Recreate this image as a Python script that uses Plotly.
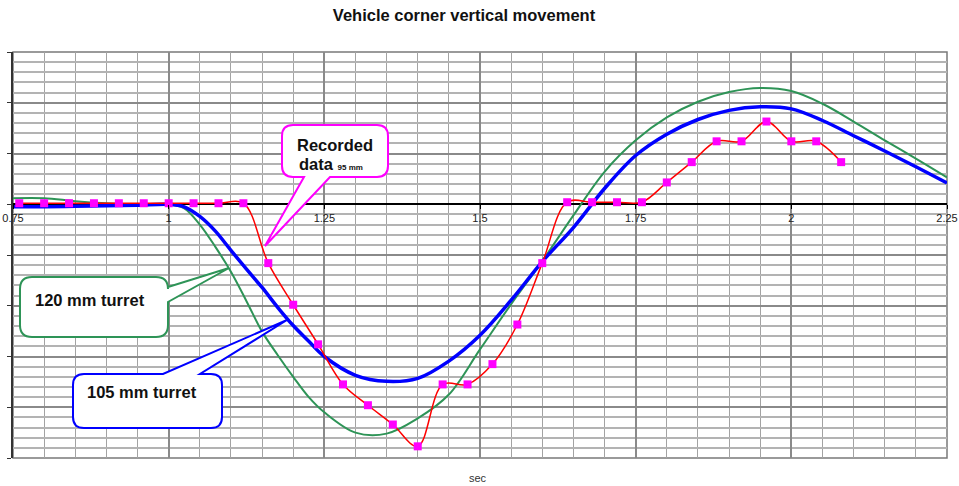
import plotly.graph_objects as go

# ---------------- data ----------------
rec_t = [0.76, 0.80, 0.84, 0.88, 0.92, 0.96, 1.00, 1.04, 1.08, 1.12,
         1.16, 1.20, 1.24, 1.28, 1.32, 1.36, 1.40, 1.44, 1.48, 1.52,
         1.56, 1.60, 1.64, 1.68, 1.72, 1.76, 1.80, 1.84, 1.88, 1.92,
         1.96, 2.00, 2.04, 2.08]
rec_y = [0.02, 0.02, 0.02, 0.02, 0.02, 0.02, 0.02, 0.02, 0.02, 0.02,
         -1.16, -1.98, -2.76, -3.55, -3.96, -4.34, -4.77, -3.55, -3.55, -3.15,
         -2.37, -1.16, 0.04, 0.04, 0.04, 0.04, 0.43, 0.83, 1.24, 1.24,
         1.63, 1.24, 1.24, 0.83]

t105 = [0.75, 0.80, 0.85, 0.90, 0.95, 1.00, 1.025, 1.05, 1.075, 1.10,
        1.125, 1.15, 1.175, 1.20, 1.225, 1.25, 1.30, 1.35, 1.40, 1.45,
        1.50, 1.55, 1.60, 1.65, 1.70, 1.75, 1.80, 1.85, 1.90, 1.95,
        2.00, 2.05, 2.10, 2.15, 2.20, 2.25]
y105 = [-0.05, -0.05, -0.04, -0.03, -0.02, 0.0, -0.05, -0.24, -0.53, -0.91,
        -1.28, -1.64, -2.03, -2.39, -2.70, -3.00, -3.37, -3.49, -3.43, -3.09,
        -2.58, -1.89, -1.13, -0.46, 0.31, 0.96, 1.38, 1.67, 1.85, 1.92,
        1.88, 1.65, 1.35, 1.05, 0.74, 0.42]

t120 = [0.75, 0.80, 0.85, 0.90, 0.95, 1.00, 1.025, 1.05, 1.075, 1.10,
        1.125, 1.15, 1.175, 1.20, 1.225, 1.25, 1.30, 1.35, 1.40, 1.45,
        1.50, 1.55, 1.60, 1.65, 1.70, 1.75, 1.80, 1.85, 1.90, 1.95,
        2.00, 2.05, 2.10, 2.15, 2.20, 2.25]
y120 = [0.12, 0.12, 0.06, 0.02, 0.0, 0.0, -0.08, -0.40, -0.84, -1.33,
        -1.91, -2.51, -2.97, -3.40, -3.80, -4.10, -4.50, -4.52, -4.22, -3.75,
        -2.86, -1.97, -1.12, -0.22, 0.64, 1.26, 1.71, 2.02, 2.21, 2.29,
        2.23, 1.98, 1.63, 1.26, 0.90, 0.53]

x_ticks = [0.75, 1.0, 1.25, 1.5, 1.75, 2.0, 2.25]
x_ticklabels = ["0.75", "1", "1.25", "1.5", "1.75", "2", "2.25"]

# ---------------- layout helpers ----------------
W, H = 959, 486
L, R, T, B = 13, 12, 52, 28
PW, PH = W - L - R, H - T - B


def px(x):
    return (x - L) / PW


def py(y):
    return (H - B - y) / PH


def callout(x0, y0, x1, y1, r, side, w0, w1, tip):
    pts = []
    pts.append(("M", (x0 + r, y0)))
    if side == "top":
        pts += [("L", (w0, y0)), ("L", tip), ("L", (w1, y0))]
    pts.append(("L", (x1 - r, y0)))
    pts.append(("Q", (x1, y0), (x1, y0 + r)))
    if side == "right":
        pts += [("L", (x1, w0)), ("L", tip), ("L", (x1, w1))]
    pts.append(("L", (x1, y1 - r)))
    pts.append(("Q", (x1, y1), (x1 - r, y1)))
    if side == "bottom":
        pts += [("L", (w1, y1)), ("L", tip), ("L", (w0, y1))]
    pts.append(("L", (x0 + r, y1)))
    pts.append(("Q", (x0, y1), (x0, y1 - r)))
    pts.append(("L", (x0, y0 + r)))
    pts.append(("Q", (x0, y0), (x0 + r, y0)))
    s = ""
    for p in pts:
        cmd = p[0]
        coords = " ".join(f"{px(a):.5f},{py(b):.5f}" for a, b in p[1:])
        s += f"{cmd} {coords} "
    return s + "Z"


FONT = "Liberation Sans"

fig = go.Figure()
fig.add_trace(go.Scatter(x=t120, y=y120, mode="lines", name="120 mm turret",
                         line=dict(color="#2e9457", width=2, shape="spline"),
                         hoverinfo="skip"))
fig.add_trace(go.Scatter(x=t105, y=y105, mode="lines", name="105 mm turret",
                         line=dict(color="#0000ff", width=3.5, shape="spline"),
                         hoverinfo="skip"))
fig.add_trace(go.Scatter(x=rec_t, y=rec_y, mode="lines+markers", name="Recorded data",
                         line=dict(color="#ff0000", width=1.5, shape="spline"),
                         marker=dict(symbol="square", size=8, color="#ff00ff"),
                         hoverinfo="skip"))

shapes = [
    dict(type="rect", xref="paper", yref="paper", x0=0, y0=0, x1=1, y1=1,
         line=dict(color="#7a7a7a", width=1.5), layer="between"),
    dict(type="path", xref="paper", yref="paper", layer="above",
         path=callout(282, 125, 388, 177, 11, "bottom", 304, 330, (265, 246)),
         fillcolor="white", line=dict(color="#ff00ff", width=2)),
    dict(type="path", xref="paper", yref="paper", layer="above",
         path=callout(20, 277, 168, 337, 12, "right", 287, 302, (229, 268)),
         fillcolor="white", line=dict(color="#2e9457", width=2)),
    dict(type="path", xref="paper", yref="paper", layer="above",
         path=callout(73, 374, 222, 428, 11, "top", 163, 200, (287, 320)),
         fillcolor="white", line=dict(color="#0000ff", width=2)),
]

annotations = [
    dict(x=px(335), y=py(145), xref="paper", yref="paper", text="<b>Recorded</b>",
         showarrow=False, xanchor="center", yanchor="middle",
         font=dict(family=FONT, size=16.5, color="#111")),
    dict(x=px(297), y=py(164), xref="paper", yref="paper",
         text="<b>data</b> <b><span style='font-size:8px'>95 mm</span></b>",
         showarrow=False, xanchor="left", yanchor="middle",
         font=dict(family=FONT, size=16.5, color="#111")),
    dict(x=px(33), y=py(300), xref="paper", yref="paper", text="<b>120 mm turret</b>",
         showarrow=False, xanchor="left", yanchor="middle",
         font=dict(family=FONT, size=16.5, color="#111")),
    dict(x=px(85), y=py(392), xref="paper", yref="paper", text="<b>105 mm turret</b>",
         showarrow=False, xanchor="left", yanchor="middle",
         font=dict(family=FONT, size=16.5, color="#111")),
    dict(x=px(478), y=py(478), xref="paper", yref="paper", text="sec",
         showarrow=False, xanchor="center", yanchor="middle",
         font=dict(family=FONT, size=11, color="#333")),
]

fig.update_layout(
    width=W, height=H,
    margin=dict(l=L, r=R, t=T, b=B, pad=0, autoexpand=False),
    paper_bgcolor="white", plot_bgcolor="white",
    showlegend=False,
    title=dict(text="<b>Vehicle corner vertical movement</b>",
               x=464 / W, xref="container", xanchor="center",
               y=1 - 15 / H, yref="container", yanchor="middle",
               font=dict(family=FONT, size=16.5, color="#111")),
    xaxis=dict(range=[0.75, 2.25], tickmode="array", tickvals=x_ticks,
               ticktext=x_ticklabels, anchor="free", position=0.625,
               automargin=False,
               ticks="outside", ticklen=4, tickcolor="black", tickwidth=1,
               tickfont=dict(family=FONT, size=11, color="#222"),
               ticklabeloverflow="allow",
               showline=False, zeroline=False,
               showgrid=True, gridcolor="#8a8a8a", gridwidth=1.5,
               minor=dict(tickmode="linear", tick0=0.75, dtick=0.05,
                          showgrid=True, gridcolor="#a3a3a3", gridwidth=1.3,
                          ticks="")),
    yaxis=dict(range=[-5, 3], tickmode="linear", tick0=0, dtick=1,
               automargin=False,
               showticklabels=False, ticks="outside", ticklen=4,
               tickcolor="#333", showline=True, linecolor="#333", linewidth=1.5,
               showgrid=True, gridcolor="#8a8a8a", gridwidth=1.5,
               zeroline=True, zerolinecolor="black", zerolinewidth=1.5,
               minor=dict(tickmode="linear", tick0=0, dtick=0.2,
                          showgrid=True, gridcolor="#b3b3b3", gridwidth=1.6,
                          ticks="")),
    shapes=shapes,
    annotations=annotations,
)

fig.write_html("out.html", config={"displayModeBar": False},
               post_script="document.body.style.margin='0';document.body.style.padding='0';")
